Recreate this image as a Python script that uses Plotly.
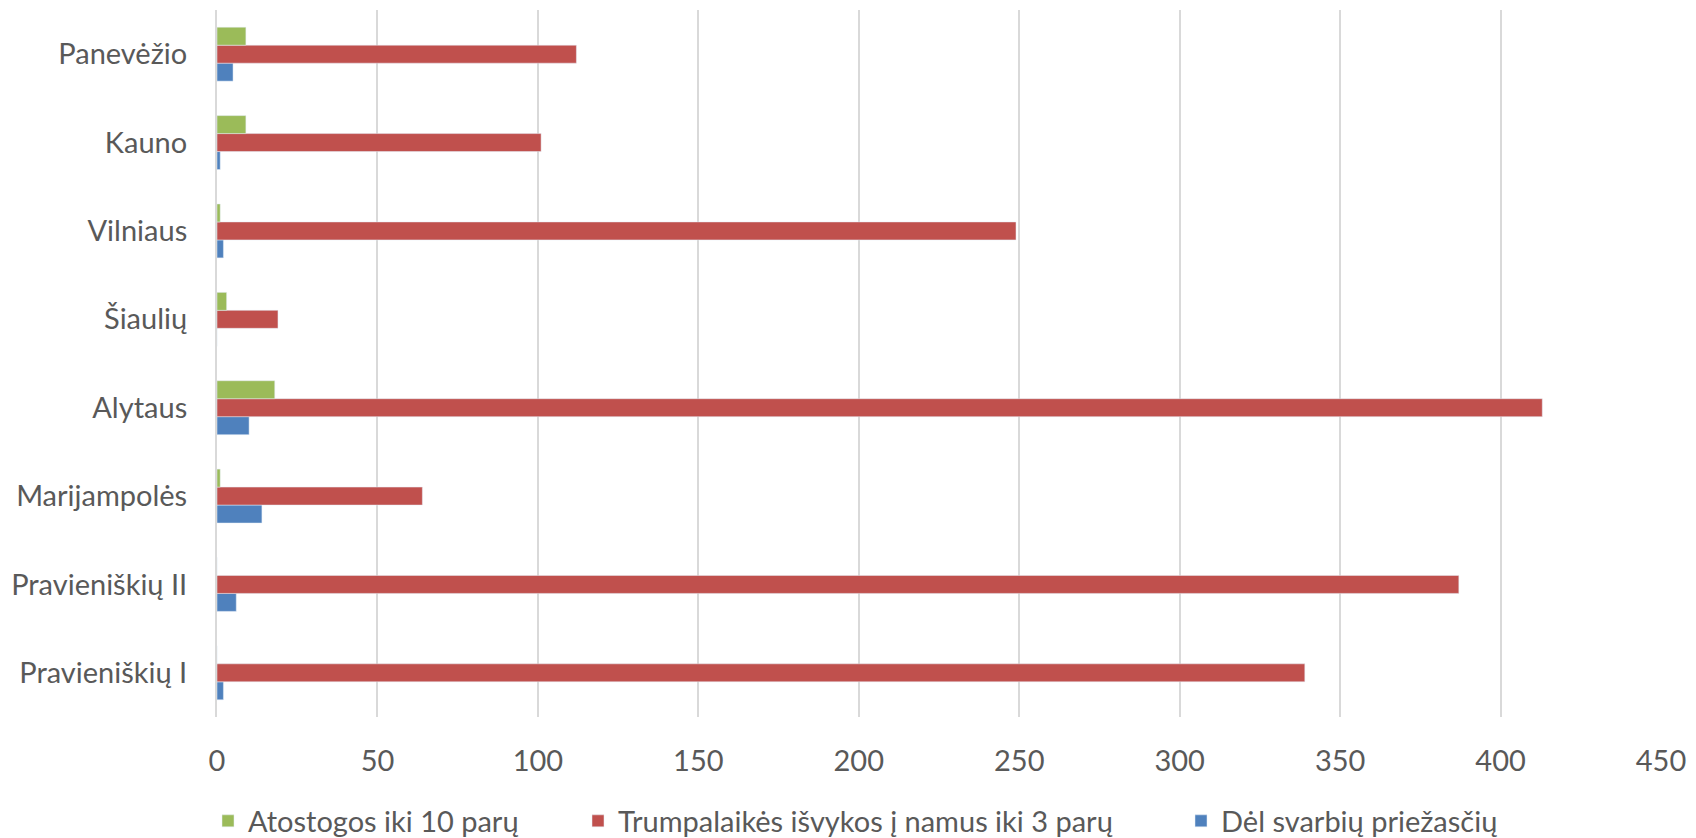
import plotly.graph_objects as go

categories = ["Pravieniškių I", "Pravieniškių II", "Marijampolės", "Alytaus",
              "Šiaulių", "Vilniaus", "Kauno", "Panevėžio"]
atostogos = [0, 0, 1, 18, 3, 1, 9, 9]
trumpalaikes = [339, 387, 64, 413, 19, 249, 101, 112]
svarbios = [2, 6, 14, 10, 0, 2, 1, 5]
x_ticks = [0, 50, 100, 150, 200, 250, 300, 350, 400, 450]

FONT = "Lato"
TXT = "#595959"
FS = 29
W, H = 1696, 838

fig = go.Figure()
fig.add_trace(go.Bar(y=categories, x=svarbios, orientation="h",
                     name="Dėl svarbių priežasčių", marker_color="#4F81BD",
                     legend="legend3"))
fig.add_trace(go.Bar(y=categories, x=trumpalaikes, orientation="h",
                     name="Trumpalaikės išvykos į namus iki 3 parų", marker_color="#C0504D",
                     legend="legend2"))
fig.add_trace(go.Bar(y=categories, x=atostogos, orientation="h",
                     name="Atostogos iki 10 parų", marker_color="#9BBB59",
                     legend="legend"))

def leg(xpx):
    return dict(orientation="h", xref="container", yref="container",
                x=xpx / W, xanchor="left", y=(H - 821) / H, yanchor="middle",
                font=dict(size=FS, color=TXT, family=FONT), itemwidth=30,
                bgcolor="rgba(0,0,0,0)")

fig.update_layout(
    width=W, height=H,
    barmode="group", bargap=0.39, bargroupgap=0,
    plot_bgcolor="white", paper_bgcolor="white",
    margin=dict(l=217, r=33, t=10, b=121),
    font=dict(family=FONT, size=FS, color=TXT),
    legend=leg(208),
    legend2=leg(578),
    legend3=leg(1181),
    showlegend=True,
)
fig.update_xaxes(range=[0, 450], tickvals=x_ticks, showgrid=True, gridcolor="#D9D9D9",
                 gridwidth=1.5, zeroline=False, showline=False,
                 ticks="outside", ticklen=18, tickcolor="rgba(0,0,0,0)",
                 tickfont=dict(size=FS, color=TXT))
fig.update_yaxes(categoryorder="array", categoryarray=categories, showgrid=False,
                 showline=True, linecolor="#D9D9D9", linewidth=2,
                 ticks="outside", ticklen=22, tickcolor="rgba(0,0,0,0)",
                 tickfont=dict(size=FS, color=TXT))

fig.write_html("out.html", config={"displayModeBar": False},
               post_script="document.body.style.margin='0px';")
